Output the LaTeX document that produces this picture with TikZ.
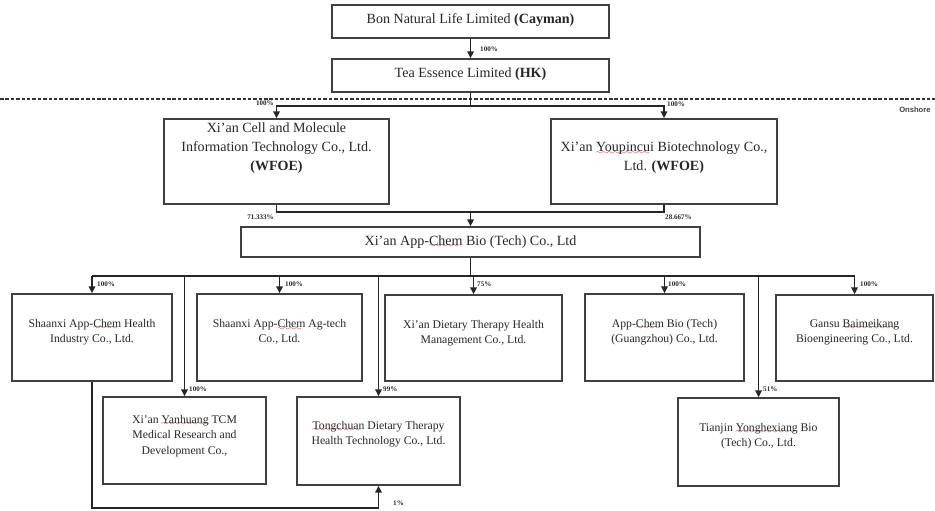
\documentclass[tikz,border=0pt]{standalone}
\usepackage{fontspec}
\setmainfont{Liberation Serif}
\newfontfamily\onshorefont{Liberation Sans}
\usetikzlibrary{arrows.meta,fit}

\font\wavyfont=lasy6
\newcommand\spellwave[1]{\leavevmode\setbox0\hbox{#1}%
  \rlap{\color{red!80!black}\lower2.2pt\hbox to\wd0{\leaders\hbox{\wavyfont\char58}\hfil}}\box0\relax}

\tikzset{
  entity/.style={draw=black!75, line width=1.1pt, inner sep=0pt},
  topname/.style={align=center, inner sep=0pt, text=black!85, font=\fontsize{12}{16}\selectfont},
  subname/.style={align=center, inner sep=0pt, text=black!85, font=\fontsize{10}{13.2}\selectfont},
  pct/.style={inner sep=0pt, text=black!85, font=\fontsize{6}{7}\selectfont\bfseries},
  link/.style={draw=black!85, line width=1.4pt},
  tip/.style={link, -{Triangle[width=5.5pt,length=6pt]}},
  shoreline/.style={draw=black!80, line width=1.2pt, dash pattern=on 3pt off 1.6pt},
}

\begin{document}
\begin{tikzpicture}[x=0.03cm, y=-0.03cm]
\useasboundingbox (0,0) rectangle (935,511);

\coordinate (shoreW) at (0,99);
\coordinate (shoreE) at (935,99);
\draw[shoreline] (shoreW) -- (shoreE);
\node[anchor=west, inner sep=0pt, text=black!75, font=\fontsize{6.5}{7}\onshorefont\bfseries] (onshore) at (899,110) {Onshore};

\node[entity, fit={(332,5) (609,38)}] (bon) {};
\node[entity, fit={(332,59) (609,92)}] (tea) {};
\node[entity, fit={(164,119) (389,204)}] (cell) {};
\node[entity, fit={(551,119) (777,204)}] (youp) {};
\node[entity, fit={(241,227) (700,257)}] (app) {};
\node[entity, fit={(12,294) (172,381)}] (health) {};
\node[entity, fit={(197,294) (362,381)}] (agtech) {};
\node[entity, fit={(385,295) (562,381)}] (diet) {};
\node[entity, fit={(585,294) (744,381)}] (gz) {};
\node[entity, fit={(776,295) (933,381)}] (gansu) {};
\node[entity, fit={(103,397) (266,484)}] (yan) {};
\node[entity, fit={(297,397) (460,485)}] (tong) {};
\node[entity, fit={(678,398) (839,486)}] (tj) {};

\node[topname] (bonT) at (470.5,20) {Bon Natural Life Limited \textbf{(Cayman)}};
\node[topname] (teaT) at (470.5,74) {Tea Essence Limited \textbf{(HK)}};
\node[topname] (cellT) at (276.5,148) {Xi'an Cell and Molecule\\Information Technology Co., Ltd.\\\textbf{(WFOE)}};
\node[topname] (youpT) at (664,157.5) {Xi'an \spellwave{Youpincui} Biotechnology Co.,\\Ltd. \textbf{(WFOE)}};
\node[topname] (appT) at (470.5,242) {Xi'an App-\spellwave{Chem} Bio (Tech) Co., Ltd};
\node[subname] (healthT) at (92,332) {Shaanxi App-\spellwave{Chem} Health\\Industry Co., Ltd.};
\node[subname] (agtechT) at (279.5,332) {Shaanxi App-\spellwave{Chem} Ag-tech\\Co., Ltd.};
\node[subname] (dietT) at (473.5,333) {Xi'an Dietary Therapy Health\\Management Co., Ltd.};
\node[subname] (gzT) at (664.5,332) {App-\spellwave{Chem} Bio (Tech)\\(Guangzhou) Co., Ltd.};
\node[subname] (gansuT) at (854.5,332) {Gansu \spellwave{Baimeikang}\\Bioengineering Co., Ltd.};
\node[subname] (yanT) at (184.5,436) {Xi'an \spellwave{Yanhuang} TCM\\Medical Research and\\Development Co.,};
\node[subname] (tongT) at (378.5,434) {\spellwave{Tongchuan} Dietary Therapy\\Health Technology Co., Ltd.};
\node[subname] (tjT) at (758.5,436) {Tianjin \spellwave{Yonghexiang} Bio\\(Tech) Co., Ltd.};

\coordinate (split1) at (470.5,106);
\coordinate (join1) at (470.5,212);
\coordinate (split2) at (470.5,276);
\coordinate (loop) at (92,508);

\draw[tip] (bon) -- (tea);
\draw[link] (tea) -- (split1);
\draw[tip] (split1) -| (cell);
\draw[tip] (split1) -| (youp);
\draw[link] (cell) |- (join1);
\draw[link] (youp) |- (join1);
\draw[tip] (join1) -- (app);
\draw[link] (app) -- (split2);
\draw[link] (health |- split2) -- (gansu |- split2);
\foreach \n in {health,agtech,diet,gz,gansu,yan,tong,tj}
  \draw[tip] (\n |- split2) -- (\n);
\draw[tip] (health) -- (loop) -| (tong);

\node[pct, anchor=west] (pTea) at (480,49) {100\%};
\node[pct, anchor=east] (pCell) at (274,103) {100\%};
\node[pct, anchor=west] (pYoup) at (667,104) {100\%};
\node[pct, anchor=east] (pCellApp) at (274,217) {71.333\%};
\node[pct, anchor=west] (pYoupApp) at (665,217) {28.667\%};
\node[pct, anchor=west] (pHealth) at (97,284) {100\%};
\node[pct, anchor=west] (pAgtech) at (285,284) {100\%};
\node[pct, anchor=west] (pDiet) at (477,284) {75\%};
\node[pct, anchor=west] (pGz) at (668,284) {100\%};
\node[pct, anchor=west] (pGansu) at (860,284) {100\%};
\node[pct, anchor=west] (pYan) at (189,389) {100\%};
\node[pct, anchor=west] (pTong) at (383,389) {99\%};
\node[pct, anchor=west] (pTj) at (763,389) {51\%};
\node[pct, anchor=west] (pLoop) at (393,503) {1\%};
\end{tikzpicture}
\end{document}
